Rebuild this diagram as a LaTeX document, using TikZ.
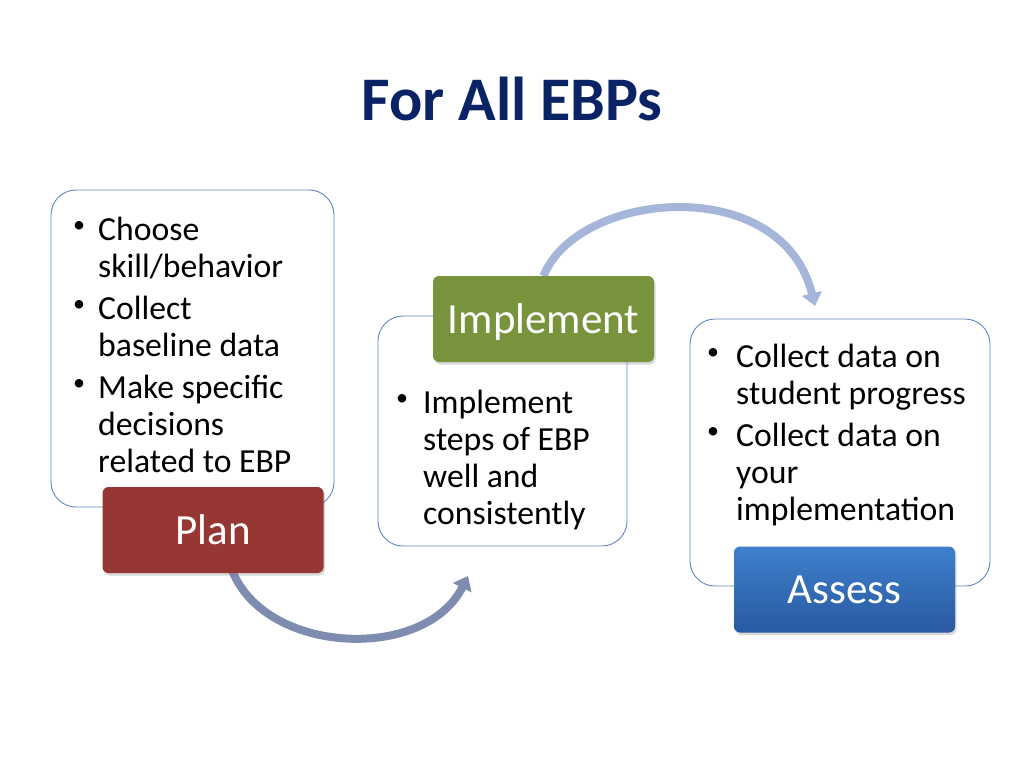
\documentclass[tikz,border=0pt]{standalone}
\usepackage{fontspec}
\setmainfont{Carlito}
\usetikzlibrary{arrows.meta,shadows}
\definecolor{titleblue}{RGB}{10,35,100}
\definecolor{boxline}{RGB}{95,135,195}
\definecolor{planred}{RGB}{150,55,52}
\definecolor{implgreen}{RGB}{119,147,60}
\definecolor{assesstop}{RGB}{62,128,205}
\definecolor{assessbot}{RGB}{40,90,160}
\definecolor{arrowdark}{RGB}{125,140,175}
\definecolor{arrowlight}{RGB}{165,182,218}
\begin{document}
\begin{tikzpicture}[x=1pt,y=-1pt,
  textbox/.style={draw=boxline, line width=0.9pt, fill=white, rounded corners=25pt, inner sep=0pt},
  stagebox/.style={rounded corners=6pt, inner sep=0pt, minimum width=221pt, minimum height=86pt,
    text=white, font=\fontsize{43}{43}\selectfont, text height=28pt, text depth=0pt,
    drop shadow={opacity=0.3, shadow xshift=1.5pt, shadow yshift=-2.5pt}},
  item/.style={anchor=base west, align=left, font=\fontsize{33.7}{37}\selectfont, inner sep=0pt},
  bulletmark/.style={anchor=base, inner sep=0pt, font=\fontsize{24}{24}\selectfont},
  flow/.style={line width=8pt, -{Triangle[width=20pt,length=13pt]}}
]
\useasboundingbox[fill=white] (0,0) rectangle (1024,768);

\node (title) at (512,120) [anchor=base, font=\fontsize{62}{62}\selectfont\bfseries, text=titleblue] {For All EBPs};

% text boxes
\node (planbox) at (192.5,348.5) [textbox, minimum width=283pt, minimum height=317pt] {};
\node (implbox) at (502.5,431) [textbox, minimum width=249pt, minimum height=230pt] {};
\node (assessbox) at (840,452.5) [textbox, minimum width=300pt, minimum height=267pt] {};

% free arrow ends
\coordinate (a1e) at (468,576);
\coordinate (a2e) at (815,306);

% stage label positions, used by the arrows before the labels are drawn
\coordinate (plan0) at (213,530);
\coordinate (impl0) at (543.5,276);

\draw[flow, arrowdark] ([xshift=19pt,yshift=-40pt]plan0) .. controls (265,655) and (425,662) .. (a1e);
\draw[flow, arrowlight] (impl0) .. controls (578,190) and (782,172) .. (a2e);

% stage labels
\node (plan) at (plan0) [stagebox, fill=planred] {Plan};
\node (impl) at (543.5,319) [stagebox, fill=implgreen] {Implement};
\node (assess) at (844.5,589.5) [stagebox, top color=assesstop, bottom color=assessbot] {Assess};

% bullet items (anchor = baseline of the last line)
\node (pb1) at (79,240) [bulletmark] {\raisebox{8pt}{•}};
\node (pt1) at (98,277) [item] {Choose\\skill/behavior};
\node (pb2) at (79,319) [bulletmark] {\raisebox{8pt}{•}};
\node (pt2) at (98,356) [item] {Collect\\baseline data};
\node (pb3) at (79,398) [bulletmark] {\raisebox{8pt}{•}};
\node (pt3) at (98,472) [item] {Make specific\\decisions\\related to EBP};

\node (ib1) at (402,413) [bulletmark] {\raisebox{8pt}{•}};
\node (it1) at (423,524) [item] {Implement\\steps of EBP\\well and\\consistently};

\node (ab1) at (713,367) [bulletmark] {\raisebox{8pt}{•}};
\node (at1) at (736,404) [item] {Collect data on\\student progress};
\node (ab2) at (713,446) [bulletmark] {\raisebox{8pt}{•}};
\node (at2) at (736,520) [item] {Collect data on\\your\\implementation};
\end{tikzpicture}
\end{document}
